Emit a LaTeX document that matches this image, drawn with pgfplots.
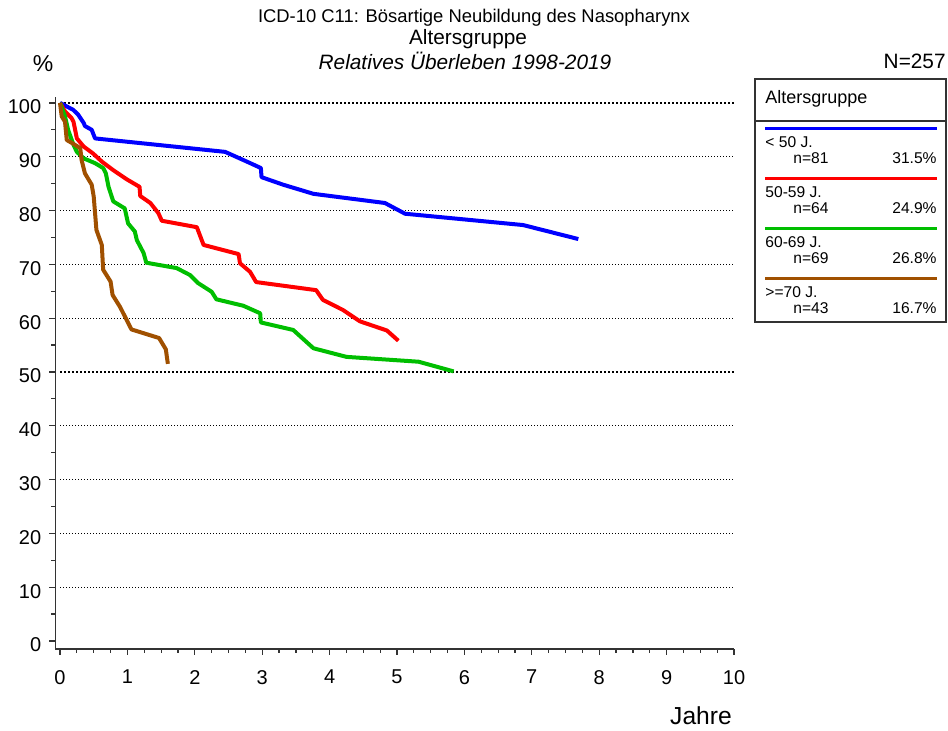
\documentclass[border=0pt]{standalone}
\usepackage{pgfplots}
\pgfplotsset{compat=1.18}
\usepackage{fontspec}
\setmainfont{Liberation Sans}
\definecolor{cblue}{RGB}{0,0,255}
\definecolor{cred}{RGB}{255,0,0}
\definecolor{cgreen}{RGB}{0,190,0}
\definecolor{cbrown}{RGB}{160,80,0}
\begin{document}
\begin{tikzpicture}[x=0.5pt,y=0.5pt]
\useasboundingbox (0,0) rectangle (948,731);
\begin{axis}[
  at={(27.65pt,41pt)}, anchor=south west,
  scale only axis, width=339.35pt, height=276pt,
  xmin=-0.07, xmax=10, ymin=-1.49, ymax=101.1,
  axis x line*=bottom, axis y line*=left,
  axis line style={line width=0.7pt, color=black!80, -},
  xtick={0,...,10}, ytick={0,10,...,100},
  minor x tick num=3, minor y tick num=1,
  tick align=outside, major tick length=3pt, minor tick length=2pt,
  every tick/.style={line width=0.6pt, black!80},
  ticklabel style={font=\fontsize{10}{11}\selectfont},
  xticklabel style={yshift=-4pt},
  yticklabel style={yshift=-2pt, xshift=-0.5pt},
  /pgf/number format/assume math mode=true,
  clip=false,
]
\pgfplotsinvokeforeach{10,20,30,40,60,70,80,90}{
  \draw[black, line width=0.5pt, dash pattern=on 0.5pt off 1pt] (axis cs:0,#1) -- (axis cs:10,#1);
}
\pgfplotsinvokeforeach{50,100}{
  \draw[black, line width=1pt, dash pattern=on 1pt off 1pt] (axis cs:0,#1) -- (axis cs:10,#1);
}
% < 50 J.
\addplot[cblue, line width=2pt, line join=round] coordinates {
(0,100) (0.197,98.7) (0.27,97.8) (0.35,96.3) (0.37,95.7) (0.47,95.0) (0.52,93.4)
(2.45,90.9) (2.77,89.1) (2.98,87.9) (2.99,86.2) (3.31,84.8) (3.76,83.1)
(4.82,81.4) (5.12,79.4) (6.87,77.3) (7.69,74.7)
};
% 50-59 J.
\addplot[cred, line width=2pt, line join=round] coordinates {
(0,100) (0.074,98.4) (0.17,97.2) (0.20,96.5) (0.25,93.4) (0.35,91.9) (0.49,90.6)
(0.62,89.1) (0.79,87.5) (0.99,85.8) (1.18,84.4) (1.19,82.7) (1.34,81.4) (1.46,79.5)
(1.51,78.1) (2.03,76.9) (2.13,73.6) (2.65,71.9) (2.67,70.2) (2.82,68.6) (2.91,66.7)
(3.80,65.2) (3.90,63.4) (4.20,61.5) (4.45,59.4) (4.85,57.7) (5.02,55.8)
};
% 60-69 J.
\addplot[cgreen, line width=2pt, line join=round] coordinates {
(0,100) (0.074,97.5) (0.12,95.0) (0.20,92.2) (0.25,90.9) (0.35,89.7) (0.52,88.8)
(0.64,87.9) (0.68,86.9) (0.72,84.4) (0.79,81.7) (0.96,80.4) (1.01,77.6) (1.11,76.1)
(1.14,74.5) (1.24,72.1) (1.28,70.3) (1.73,69.3) (1.93,68.0) (2.05,66.5) (2.25,64.9)
(2.32,63.5) (2.72,62.3) (2.97,60.9) (2.98,59.2) (3.46,57.8) (3.76,54.4) (4.25,52.8)
(5.32,51.9) (5.84,50.1)
};
% >=70 J.
\addplot[cbrown, line width=2pt, line join=round] coordinates {
(0,100) (0.025,97.5) (0.074,96.5) (0.10,93.1) (0.17,92.6) (0.30,91.6) (0.32,89.4)
(0.37,86.9) (0.47,84.8) (0.50,82.6) (0.54,76.4) (0.62,73.6) (0.64,69.0) (0.75,66.8)
(0.78,64.3) (0.89,62.1) (1.06,57.9) (1.47,56.3) (1.57,54.2) (1.60,51.5)
};
\end{axis}
% titles
\node[font=\fontsize{9.2}{10}\selectfont] at (474,731-18) {ICD-10 C11: Bösartige Neubildung des Nasopharynx};
\node[font=\fontsize{10.4}{11}\selectfont] at (468,731-39) {Altersgruppe};
\node[font=\fontsize{10.4}{11}\selectfont\itshape] at (465,731-61) {Relatives Überleben 1998-2019};
\node[font=\fontsize{10.4}{11}\selectfont, anchor=east, inner sep=0pt] at (946,731-61) {N=257};
\node[font=\fontsize{11.5}{12}\selectfont] at (43,731-64) {\%};
\node[font=\fontsize{12.3}{13}\selectfont] at (701,731-716) {Jahre};
% legend
\draw[black!80, line width=0.6pt] (755,731-79) rectangle (946,731-322);
\draw[black!80, line width=0.6pt] (755,731-121) -- (946,731-121);
\node[font=\fontsize{9}{10}\selectfont, anchor=west, inner sep=0pt] at (765,731-99) {Altersgruppe};
\foreach \c/\lab/\n/\p [count=\i from 0] in {cblue/{< 50 J.}/81/31.5, cred/{50-59 J.}/64/24.9, cgreen/{60-69 J.}/69/26.8, cbrown/{>=70 J.}/43/16.7}{
  \pgfmathsetmacro{\yy}{731-128.3-50*\i}
  \draw[\c, line width=1.5pt] (765,\yy) -- (937,\yy);
  \node[font=\fontsize{7.8}{9}\selectfont, anchor=west, inner sep=0pt] at (765,\yy-14) {\lab};
  \node[font=\fontsize{7.8}{9}\selectfont, anchor=west, inner sep=0pt] at (793,\yy-30) {n=\n};
  \node[font=\fontsize{7.8}{9}\selectfont, anchor=east, inner sep=0pt] at (937,\yy-30) {\p\%};
}
\end{tikzpicture}
\end{document}
